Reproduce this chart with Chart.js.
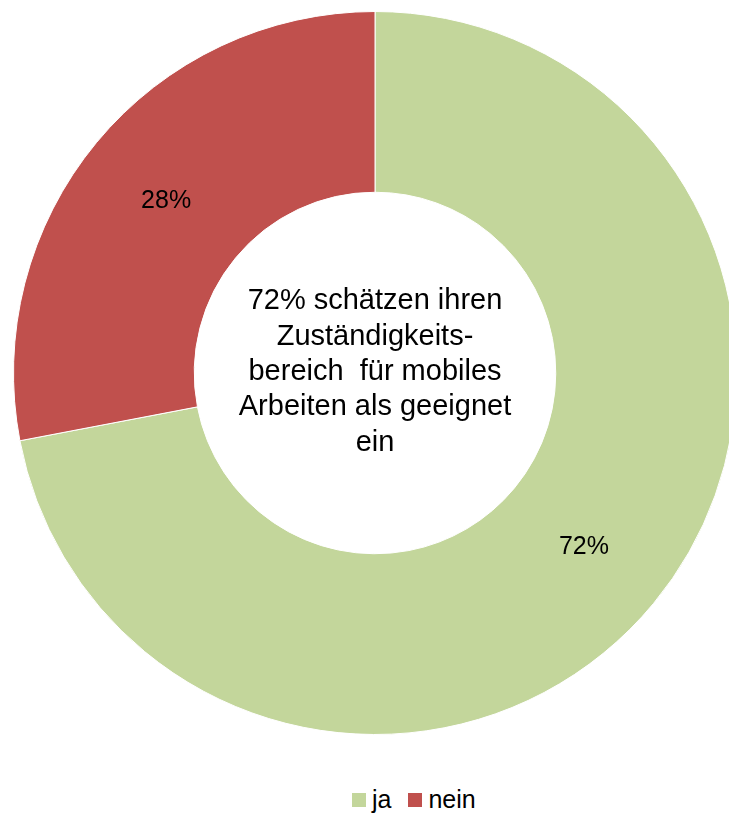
<!doctype html>
<html lang="de">
<head>
    <meta charset="utf-8">
    <title>Mobiles Arbeiten – Eignung des Zuständigkeitsbereichs</title>
    <script src="https://cdn.jsdelivr.net/npm/chart.js"></script>
    <style>
        html, body {
            margin: 0;
            padding: 0;
            background: #fff;
            overflow: hidden;
            width: 729px;
            height: 813px;
        }
        #wrap {
            position: relative;
            width: 729px;
            height: 813px;
            overflow: hidden;
        }
        #chart {
            position: absolute;
            left: 0;
            top: 0;
        }
        #legend {
            position: absolute;
            left: 352px;
            top: 787px;
            display: flex;
            align-items: center;
            font-family: "Liberation Sans", Arial, sans-serif;
            font-size: 25px;
            line-height: 25px;
            color: #000;
        }
        #legend .item {
            display: flex;
            align-items: center;
            margin-right: 17px;
        }
        #legend .box {
            width: 14px;
            height: 14px;
            margin-right: 6px;
        }
    </style>
</head>
<body>
    <div id="wrap">
        <canvas id="chart" width="750" height="746"></canvas>
        <div id="legend"></div>
    </div>

    <script>
        const labels = ['ja', 'nein'];
        const shares = [72, 28];
        const colors = ['#C3D69B', '#C0504D'];
        const centerLines = [
            '72% schätzen ihren',
            'Zuständigkeits-',
            'bereich  für mobiles',
            'Arbeiten als geeignet',
            'ein'
        ];

        const FONT = '"Liberation Sans", Arial, sans-serif';

        // percentage in the middle of each ring segment
        const sliceLabels = {
            id: 'sliceLabels',
            afterDatasetsDraw(chart) {
                const ctx = chart.ctx;
                const meta = chart.getDatasetMeta(0);
                ctx.save();
                ctx.font = '25px ' + FONT;
                ctx.fillStyle = '#000';
                ctx.textAlign = 'center';
                ctx.textBaseline = 'middle';
                meta.data.forEach((arc, i) => {
                    const p = arc.tooltipPosition();
                    ctx.fillText(chart.data.datasets[0].data[i] + '%', p.x, p.y + 1);
                });
                ctx.restore();
            }
        };

        // statement text inside the hole
        const centerText = {
            id: 'centerText',
            afterDraw(chart) {
                const ctx = chart.ctx;
                const arc = chart.getDatasetMeta(0).data[0];
                const lineH = 35.4;
                ctx.save();
                ctx.font = '29px ' + FONT;
                ctx.fillStyle = '#000';
                ctx.textAlign = 'center';
                ctx.textBaseline = 'middle';
                const mid = (centerLines.length - 1) / 2;
                centerLines.forEach((line, i) => {
                    ctx.fillText(line, arc.x, arc.y - 1 + (i - mid) * lineH);
                });
                ctx.restore();
            }
        };

        const chart = new Chart(document.getElementById('chart'), {
            type: 'doughnut',
            data: {
                labels: labels,
                datasets: [{
                    data: shares,
                    backgroundColor: colors,
                    borderColor: '#ffffff',
                    borderWidth: 1
                }]
            },
            options: {
                responsive: false,
                animation: false,
                cutout: '50%',
                layout: {
                    padding: { left: 13, right: 13, top: 11, bottom: 11 }
                },
                plugins: {
                    legend: { display: false },
                    tooltip: { enabled: false }
                }
            },
            plugins: [sliceLabels, centerText]
        });

        // legend below the ring
        const legendEl = document.getElementById('legend');
        labels.forEach((name, i) => {
            const item = document.createElement('div');
            item.className = 'item';
            const box = document.createElement('span');
            box.className = 'box';
            box.style.background = colors[i];
            const txt = document.createElement('span');
            txt.textContent = name;
            item.appendChild(box);
            item.appendChild(txt);
            legendEl.appendChild(item);
        });
    </script>
</body>
</html>
